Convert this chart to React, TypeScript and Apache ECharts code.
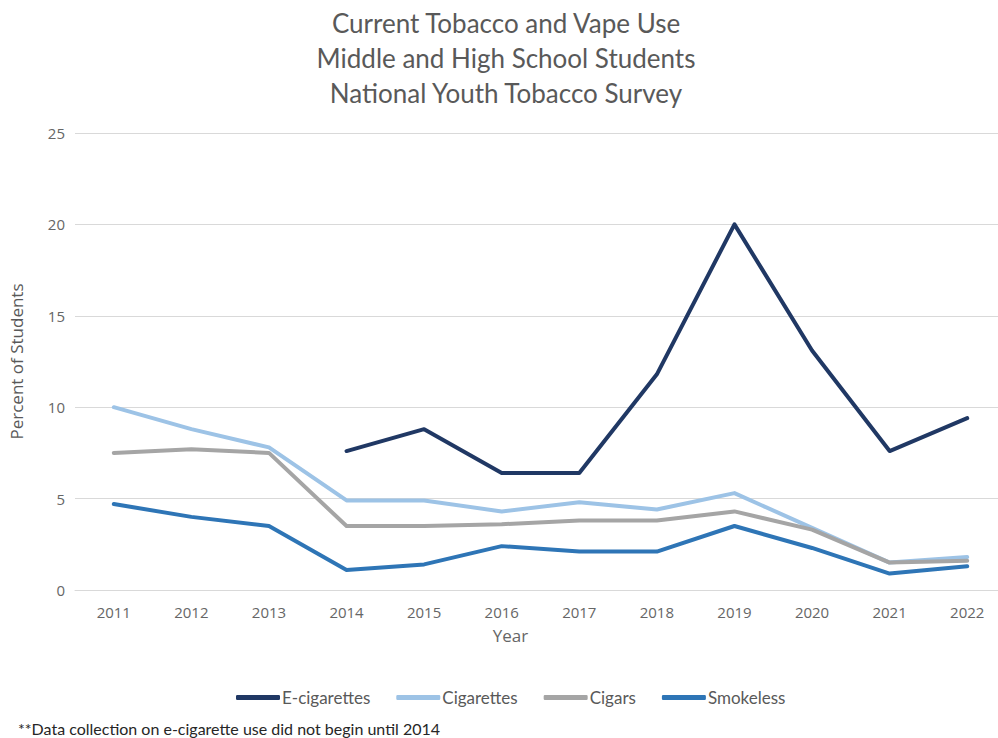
import React, { useEffect, useRef } from "react";
import * as echarts from "echarts";

const years = ["2011", "2012", "2013", "2014", "2015", "2016", "2017", "2018", "2019", "2020", "2021", "2022"];
const eCigarettes = [null, null, null, 7.6, 8.8, 6.4, 6.4, 11.8, 20.0, 13.1, 7.6, 9.4];
const cigarettes = [10.0, 8.8, 7.8, 4.9, 4.9, 4.3, 4.8, 4.4, 5.3, 3.4, 1.5, 1.8];
const cigars = [7.5, 7.7, 7.5, 3.5, 3.5, 3.6, 3.8, 3.8, 4.3, 3.3, 1.5, 1.6];
const smokeless = [4.7, 4.0, 3.5, 1.1, 1.4, 2.4, 2.1, 2.1, 3.5, 2.3, 0.9, 1.3];
const yTicks = { min: 0, max: 25, interval: 5 };

const titleLines = ["Current Tobacco and Vape Use", "Middle and High School Students", "National Youth Tobacco Survey"];
const footnote = "**Data collection on e-cigarette use did not begin until 2014";

export default function App() {
  const ref = useRef<HTMLDivElement>(null);
  useEffect(() => {
    if (!ref.current) return;
    const chart = echarts.init(ref.current, undefined, { renderer: "svg" });
    const mk = (name: string, data: (number | null)[], color: string) => ({
      name,
      type: "line",
      data,
      showSymbol: false,
      symbol: "none",
      connectNulls: false,
      lineStyle: { color, width: 4, cap: "round", join: "round" },
      itemStyle: { color },
    });
    chart.setOption({
      animation: false,
      backgroundColor: "#ffffff",
      title: {
        text: titleLines.join("\n"),
        left: "center",
        top: 0,
        textStyle: {
          fontFamily: "Lato",
          fontSize: 26,
          fontWeight: "normal",
          color: "#595959",
          lineHeight: 35,
        },
      },
      grid: { left: 71, top: 133, width: 935, height: 457, containLabel: false },
      xAxis: {
        type: "category",
        data: years,
        boundaryGap: true,
        axisLine: { show: true, lineStyle: { color: "#D9D9D9", width: 1 } },
        axisTick: { show: false },
        axisLabel: { color: "#666666", fontFamily: "Open Sans", fontSize: 15, margin: 14 },
        name: "Year",
        nameLocation: "middle",
        nameGap: 37,
        nameTextStyle: { color: "#666666", fontFamily: "Open Sans", fontSize: 17, padding: [0, 60, 0, 0] },
      },
      yAxis: {
        type: "value",
        min: yTicks.min,
        max: yTicks.max,
        interval: yTicks.interval,
        axisLine: { show: false },
        axisTick: { show: false },
        splitLine: { lineStyle: { color: "#D9D9D9", width: 1 } },
        axisLabel: { color: "#666666", fontFamily: "Open Sans", fontSize: 15, margin: 10 },
        name: "Percent of Students",
        nameLocation: "middle",
        nameGap: 50,
        nameTextStyle: { color: "#595959", fontFamily: "Open Sans", fontSize: 17 },
      },
      legend: {
        left: 231,
        top: 684,
        icon: "roundRect",
        itemWidth: 44,
        itemHeight: 5,
        itemGap: 26,
        textStyle: { color: "#595959", fontFamily: "Lato", fontSize: 17, padding: [0, 0, 0, -3] },
        data: ["E-cigarettes", "Cigarettes", "Cigars", "Smokeless"],
      },
      graphic: [
        {
          type: "text",
          left: 18,
          top: 720,
          style: { text: footnote, fill: "#262626", font: "16px Lato" },
        },
      ],
      series: [
        mk("E-cigarettes", eCigarettes, "#203864"),
        mk("Cigarettes", cigarettes, "#9DC3E6"),
        mk("Cigars", cigars, "#A5A5A5"),
        mk("Smokeless", smokeless, "#2E75B6"),
      ],
    });
    return () => chart.dispose();
  }, []);
  return (
    <div style={{ position: "fixed", left: 0, top: 0, width: 998, height: 738, overflow: "hidden", background: "#fff" }}>
      <div ref={ref} style={{ width: 1012, height: 738 }} />
    </div>
  );
}
